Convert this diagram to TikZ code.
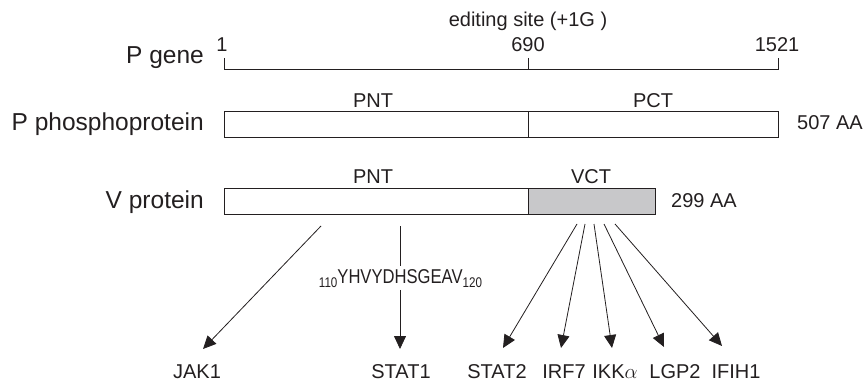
\documentclass[tikz,border=0pt]{standalone}
\usepackage{fontspec}
\setmainfont{Liberation Sans}
\newfontfamily\narrowsf[FakeStretch=0.83]{Liberation Sans}
\usetikzlibrary{arrows.meta}
\definecolor{vgrey}{RGB}{200,200,202}
\definecolor{ink}{RGB}{35,31,32}
\begin{document}
\begin{tikzpicture}[x=1pt,y=-1pt,
  big/.style={font=\fontsize{24.5}{24.5}\selectfont, inner sep=0pt, anchor=base, text=ink},
  small/.style={font=\fontsize{20}{20}\selectfont, inner sep=0pt, anchor=base, text=ink},
  segbox/.style={draw=ink, line width=0.8pt, minimum height=26pt, inner sep=0pt, anchor=north west},
  arr/.style={draw=ink, -{Triangle[length=13pt,width=12pt]}, line width=0.8pt},
  plain/.style={draw=ink, line width=0.8pt}]
\useasboundingbox (0,0) rectangle (864,385);

% P gene
\coordinate (g1) at (224,69.5);
\coordinate (g2) at (528,69.5);
\coordinate (g3) at (778,69.5);
\coordinate (k1) at (224,58);
\coordinate (k2) at (528,58);
\coordinate (k3) at (778,58);
\draw[plain] (k1) -- (g1) -- (g3) -- (k3);
\draw[plain] (k2) -- (g2);
\node[big, anchor=base east] (lgene) at (204,63.5) {P gene};
\node[small] (n1) at (222,52) {1};
\node[small] (n690) at (528,52) {690};
\node[small] (n1521) at (777,52) {1521};
\node[small] (edit) at (528,27) {editing site (+1G )};

% P phosphoprotein
\node[segbox, minimum width=304pt] (pn) at (224,111) {};
\node[segbox, minimum width=250pt] (pc) at (528,111) {};
\node[big, anchor=base east] (lpp) at (204,130.7) {P phosphoprotein};
\node[small] (pnt1) at (373,107) {PNT};
\node[small] (pct) at (653,107) {PCT};
\node[small, anchor=base west] (aa507) at (797,130) {507 AA};

% V protein
\node[segbox, minimum width=127pt, fill=vgrey] (vc) at (528,188) {};
\node[segbox, minimum width=304pt] (vn) at (224,188) {};
\node[big, anchor=base east] (lvp) at (204,208) {V protein};
\node[small] (pnt2) at (373,183.5) {PNT};
\node[small] (vct) at (591,183.5) {VCT};
\node[small, anchor=base west] (aa299) at (671,207) {299 AA};

% sequence motif
\node[anchor=base, inner xsep=0pt, inner ysep=2.5pt, text=ink,
      font=\narrowsf\fontsize{20}{20}\selectfont] (seq) at (400,283)
  {\llap{\raisebox{-4pt}{\fontsize{14}{14}\selectfont 110}}YHVYDHSGEAV\rlap{\raisebox{-4pt}{\fontsize{14}{14}\selectfont 120}}};

% arrow ends
\coordinate (s1) at (321,226);
\coordinate (s2) at (400,226);
\coordinate (s3) at (577,224);
\coordinate (s4) at (585,224);
\coordinate (s5) at (594,224);
\coordinate (s6) at (604,224);
\coordinate (s7) at (615,224);
\coordinate (e1) at (203,349);
\coordinate (e2) at (400,349);
\coordinate (e3) at (503,348);
\coordinate (e4) at (561,348);
\coordinate (e5) at (612,348);
\coordinate (e6) at (664,347);
\coordinate (e7) at (722,346);

\draw[arr] (s1) -- (e1);
\draw[plain] (s2) -- (seq.north);
\draw[arr] (seq.south) -- (e2);
\draw[arr] (s3) -- (e3);
\draw[arr] (s4) -- (e4);
\draw[arr] (s5) -- (e5);
\draw[arr] (s6) -- (e6);
\draw[arr] (s7) -- (e7);

% targets
\node[small] (jak1) at (197,378) {JAK1};
\node[small] (stat1) at (401,378) {STAT1};
\node[small] (stat2) at (497,378) {STAT2};
\node[small] (irf7) at (564,378) {IRF7};
\node[small] (ikka) at (615,378) {IKK$\alpha$};
\node[small] (lgp2) at (675,378) {LGP2};
\node[small] (ifih1) at (736,378) {IFIH1};
\end{tikzpicture}
\end{document}
